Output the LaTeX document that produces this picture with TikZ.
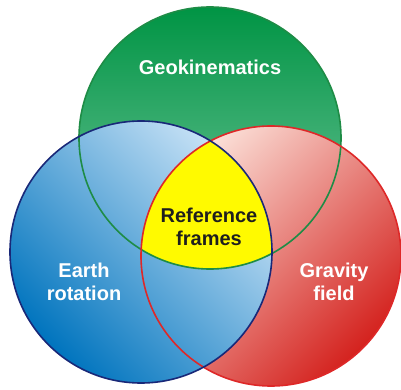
\documentclass[tikz,border=0pt]{standalone}
\usepackage{fontspec}
\setmainfont{Liberation Sans}
\definecolor{gTop}{RGB}{0,148,68}
\definecolor{gBot}{RGB}{120,200,160}
\definecolor{gLine}{RGB}{30,140,70}
\definecolor{bDark}{RGB}{0,116,190}
\definecolor{bMid}{RGB}{70,148,212}
\definecolor{bLight}{RGB}{200,226,246}
\definecolor{bLine}{RGB}{25,40,120}
\definecolor{rDark}{RGB}{212,34,30}
\definecolor{rMid}{RGB}{230,100,84}
\definecolor{rLight}{RGB}{252,228,220}
\definecolor{rLine}{RGB}{222,40,40}
\definecolor{yel}{RGB}{255,250,0}
\definecolor{txtdark}{RGB}{30,30,30}
\tikzset{
  lbl/.style={font=\bfseries\fontsize{20}{23}\selectfont, align=center, inner sep=0pt},
  ring/.style={line width=1.6pt}
}
\begin{document}
\begin{tikzpicture}[x=1pt,y=-1pt]
\useasboundingbox (0,0) rectangle (401,390);
\coordinate (G) at (210,138);
\coordinate (B) at (141,252);
\coordinate (R) at (271,256);
\shade[top color=gTop, bottom color=gBot] (G) circle[radius=131pt];
\shade[shading=axis, top color=rLight, middle color=rMid, bottom color=rDark, shading angle=45] (R) circle[radius=130pt];
\shade[shading=axis, top color=bLight, middle color=bMid, bottom color=bDark, shading angle=-45] (B) circle[radius=131pt];
\begin{scope}
  \clip (G) circle[radius=131pt];
  \clip (B) circle[radius=131pt];
  \fill[yel] (R) circle[radius=130pt];
\end{scope}
\draw[ring, gLine] (G) circle[radius=131pt];
\draw[ring, rLine] (R) circle[radius=130pt];
\draw[ring, bLine] (B) circle[radius=131pt];
\node[lbl, text=white] (geo) at (210,67) {Geokinematics};
\node[lbl, text=txtdark] (ref) at (209,227) {Reference\\frames};
\node[lbl, text=white] (earth) at (84,282) {Earth\\rotation};
\node[lbl, text=white] (grav) at (334,282) {Gravity\\field};
\end{tikzpicture}
\end{document}
